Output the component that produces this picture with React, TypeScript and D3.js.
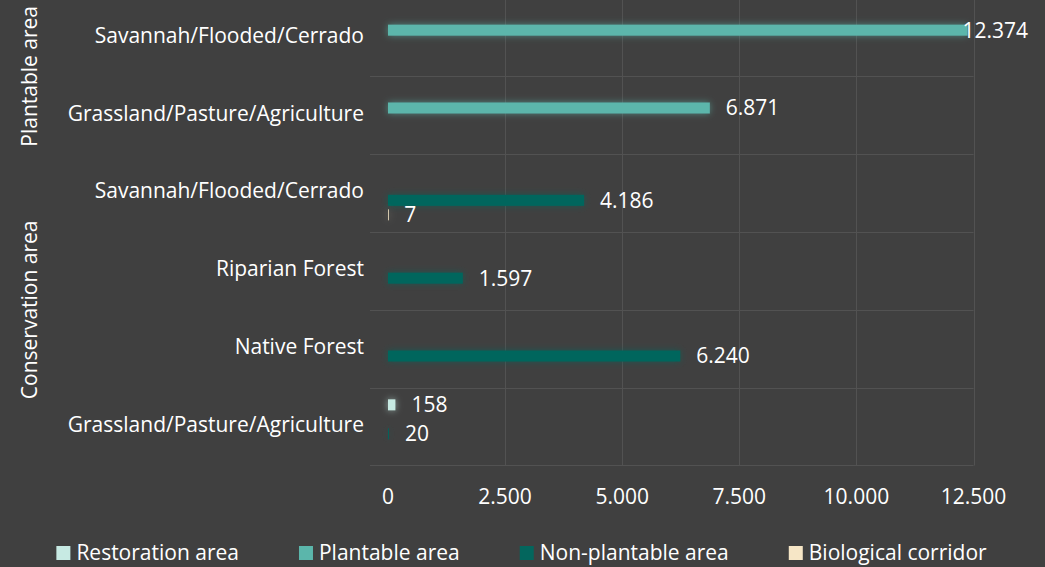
import React, { useEffect, useRef } from "react";
import * as d3 from "d3";

const categories = [
  "Plantable|Savannah/Flooded/Cerrado",
  "Plantable|Grassland/Pasture/Agriculture",
  "Conservation|Savannah/Flooded/Cerrado",
  "Conservation|Riparian Forest",
  "Conservation|Native Forest",
  "Conservation|Grassland/Pasture/Agriculture",
];
const categoryLabels = [
  "Savannah/Flooded/Cerrado",
  "Grassland/Pasture/Agriculture",
  "Savannah/Flooded/Cerrado",
  "Riparian Forest",
  "Native Forest",
  "Grassland/Pasture/Agriculture",
];
const groups = ["Plantable area", "Conservation area"];
const groupOfCategory = [0, 0, 1, 1, 1, 1];

const seriesNames = ["Restoration area", "Plantable area", "Non-plantable area", "Biological corridor"];
const seriesColors = ["#C7EAE3", "#5BB6AB", "#03665D", "#F6E6C6"];

// values per series, aligned with categories (null = no bar)
const restoration = [null, null, null, null, null, 158];
const plantable = [12374, 6871, null, null, null, null];
const nonPlantable = [null, null, 4186, 1597, 6240, 20];
const corridor = [null, null, 7, null, null, null];
const seriesValues = [restoration, plantable, nonPlantable, corridor];

const xTicks = [0, 2500, 5000, 7500, 10000, 12500];

const W = 1045;
const H = 567;
const FONT = "'Open Sans', 'Noto Sans', sans-serif";
const FS = 21;

export default function App() {
  const ref = useRef<SVGSVGElement | null>(null);

  useEffect(() => {
    const svg = d3.select(ref.current);
    svg.selectAll("*").remove();

    const locale = d3.formatLocale({ decimal: ",", thousands: ".", grouping: [3], currency: ["", ""] });
    const fmt = locale.format(",d");

    const plotLeft = 388;
    const plotRight = 973.5;
    const plotTop = -1.5;
    const plotBottom = 465.5;

    const x = d3.scaleLinear().domain([0, 12500]).range([plotLeft, plotRight]);
    const y = d3.scaleBand<string>().domain(categories).range([plotTop, plotBottom]).padding(0);
    const groupSpan = 58;
    const inner = d3
      .scaleBand<string>()
      .domain(seriesNames)
      .range([0, groupSpan])
      .paddingInner(0.24)
      .paddingOuter(0.12);
    const innerOffset = (y.bandwidth() - groupSpan) / 2;

    svg.append("rect").attr("width", W).attr("height", H).attr("fill", "#404040");

    const defs = svg.append("defs");
    const f = defs
      .append("filter")
      .attr("id", "glow")
      .attr("filterUnits", "userSpaceOnUse")
      .attr("x", 0)
      .attr("y", 0)
      .attr("width", W)
      .attr("height", H);
    f.append("feGaussianBlur").attr("in", "SourceGraphic").attr("stdDeviation", 3.6).attr("result", "blur");
    f.append("feComponentTransfer")
      .attr("in", "blur")
      .attr("result", "soft")
      .append("feFuncA")
      .attr("type", "linear")
      .attr("slope", 0.6);
    const merge = f.append("feMerge");
    merge.append("feMergeNode").attr("in", "soft");
    merge.append("feMergeNode").attr("in", "SourceGraphic");

    const grid = svg.append("g").attr("stroke", "#525252").attr("stroke-width", 1);
    // vertical gridlines
    xTicks.slice(1).forEach((t) => {
      grid
        .append("line")
        .attr("x1", Math.round(x(t)) + 0.5)
        .attr("x2", Math.round(x(t)) + 0.5)
        .attr("y1", plotTop)
        .attr("y2", plotBottom);
    });
    // horizontal category separators
    categories.forEach((c) => {
      const yy = Math.round((y(c) as number) + y.bandwidth()) + 0.5;
      grid.append("line").attr("x1", plotLeft - 18).attr("x2", plotRight).attr("y1", yy).attr("y2", yy);
    });

    // bars
    const barsG = svg.append("g");
    seriesValues.forEach((vals, si) => {
      vals.forEach((v, ci) => {
        if (v == null) return;
        const yy = (y(categories[ci]) as number) + innerOffset + (inner(seriesNames[si]) as number);
        barsG
          .append("rect")
          .attr("x", x(0))
          .attr("y", yy)
          .attr("width", Math.max(x(v) - x(0), 0.8))
          .attr("height", inner.bandwidth())
          .attr("fill", seriesColors[si])
          .attr("filter", "url(#glow)");
      });
    });

    // value labels
    const labelsG = svg.append("g").attr("font-family", FONT).attr("font-size", FS).attr("fill", "#FFFFFF");
    seriesValues.forEach((vals, si) => {
      vals.forEach((v, ci) => {
        if (v == null) return;
        const yc = (y(categories[ci]) as number) + innerOffset + (inner(seriesNames[si]) as number) + inner.bandwidth() / 2;
        const t = labelsG
          .append("text")
          .attr("x", x(v) + 16)
          .attr("y", yc)
          .attr("dy", "0.35em")
          .text(fmt(v));
        const node = t.node() as SVGTextElement;
        const w = node.getComputedTextLength();
        if (x(v) + 16 + w > 1030) {
          t.attr("x", 1028).attr("text-anchor", "end");
        }
      });
    });

    // category labels
    const catG = svg.append("g").attr("font-family", FONT).attr("font-size", FS).attr("fill", "#FFFFFF");
    categories.forEach((c, i) => {
      catG
        .append("text")
        .attr("x", 364)
        .attr("y", (y(c) as number) + y.bandwidth() / 2 - 2)
        .attr("dy", "0.35em")
        .attr("text-anchor", "end")
        .text(categoryLabels[i]);
    });

    // group labels
    groups.forEach((g, gi) => {
      const cats = categories.filter((_, i) => groupOfCategory[i] === gi);
      const top = y(cats[0]) as number;
      const bot = (y(cats[cats.length - 1]) as number) + y.bandwidth();
      const cy = (top + bot) / 2;
      catG
        .append("text")
        .attr("transform", `translate(30,${cy}) rotate(-90)`)
        .attr("dy", "0.35em")
        .attr("text-anchor", "middle")
        .text(g);
    });

    // x tick labels
    const tickG = svg.append("g").attr("font-family", FONT).attr("font-size", FS).attr("fill", "#FFFFFF");
    xTicks.forEach((t) => {
      tickG
        .append("text")
        .attr("x", x(t))
        .attr("y", 497)
        .attr("dy", "0.35em")
        .attr("text-anchor", "middle")
        .text(fmt(t));
    });

    // legend
    const legG = svg.append("g").attr("font-family", FONT).attr("font-size", FS).attr("fill", "#FFFFFF");
    const sq = 14;
    const gapSqText = 6;
    const gapItems = 60;
    const items = seriesNames.map((name, i) => {
      const g = legG.append("g");
      g.append("rect").attr("width", sq).attr("height", sq).attr("y", -sq / 2).attr("fill", seriesColors[i]);
      const t = g
        .append("text")
        .attr("x", sq + gapSqText)
        .attr("dy", "0.35em")
        .text(name);
      const w = (t.node() as SVGTextElement).getComputedTextLength();
      return { g, width: sq + gapSqText + w };
    });
    const total = d3.sum(items, (d) => d.width) + gapItems * (items.length - 1);
    let cx = 521.5 - total / 2;
    items.forEach((it) => {
      it.g.attr("transform", `translate(${cx},553)`);
      cx += it.width + gapItems;
    });
  }, []);

  return (
    <svg
      ref={ref}
      width={W}
      height={H}
      style={{ position: "absolute", left: 0, top: 0, display: "block" }}
    />
  );
}
